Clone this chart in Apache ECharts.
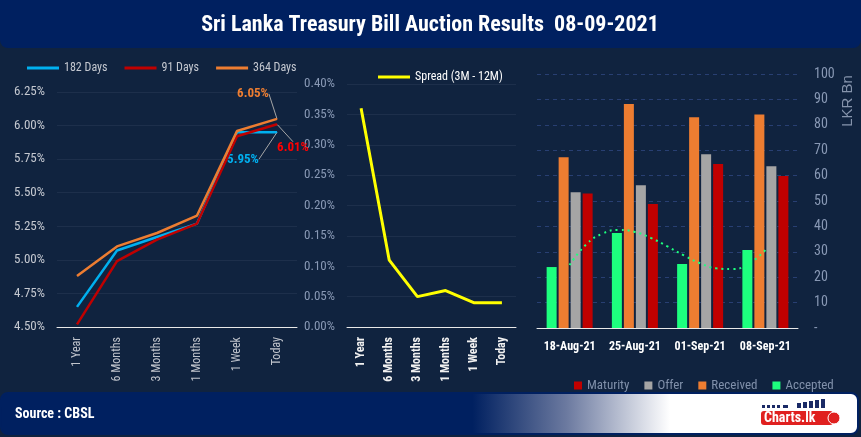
<!DOCTYPE html>
<html>
<head>
<meta charset="utf-8">
<script src="https://cdn.jsdelivr.net/npm/echarts@6/dist/echarts.min.js"></script>
<style>
html,body{margin:0;padding:0;background:#10233f;}
#chart{width:861px;height:437px;}
</style>
</head>
<body>
<div id="chart"></div>
<script>
const tenors = ['1 Year', '6 Months', '3 Months', '1 Months', '1 Week', 'Today'];
const days182 = [4.65, 5.07, 5.17, 5.27, 5.95, 5.95];
const days91 = [4.52, 4.99, 5.15, 5.27, 5.92, 6.01];
const days364 = [4.88, 5.10, 5.20, 5.33, 5.96, 6.05];
const spread = [0.36, 0.11, 0.05, 0.06, 0.04, 0.04];
const rateTicks = { min: 4.5, max: 6.25, interval: 0.25 };
const spreadTicks = { min: 0, max: 0.4, interval: 0.05 };

const auctionDates = ['18-Aug-21', '25-Aug-21', '01-Sep-21', '08-Sep-21'];
const maturity = [53, 48.8, 64.6, 59.8];
const offer = [53.4, 56.2, 68.4, 63.7];
const received = [67.2, 88.2, 83.0, 84.1];
const accepted = [24.0, 37.4, 25.2, 30.7];
const amountTicks = { min: 0, max: 100, interval: 10 };
// trend line at positions along the date axis (0 = first date)
const trendPos = [0, 0.25, 0.5, 0.75, 1, 1.25, 1.5, 1.75, 2, 2.25, 2.5, 2.75, 3];
const trendVal = [24.8, 32.8, 37.1, 38.6, 37.8, 35.4, 32.1, 28.6, 25.5, 23.5, 23.2, 25.4, 30.7];

const FONT = "'Roboto Condensed', 'Open Sans', sans-serif";
const C182 = '#00b0f0', C91 = '#c00000', C364 = '#ed7d31';

function lastLabel(arr, fmtColor) {
  return arr.map((v, i) => i === arr.length - 1
    ? { value: v, symbol: 'circle', symbolSize: 1,
        label: { show: true, position: 'top', formatter: v.toFixed(2) + '%', color: fmtColor,
                 fontFamily: FONT, fontWeight: 'bold', fontSize: 13 },
        labelLine: { show: true, lineStyle: { color: '#a6a6a6', width: 1 } } }
    : v);
}

const chart = echarts.init(document.getElementById('chart'), null, { renderer: 'canvas' });
const option = {
  backgroundColor: '#10233f',
  animation: false,
  textStyle: { fontFamily: FONT },
  graphic: [
    { type: 'rect', shape: { x: 0, y: 0, width: 861, height: 48, r: [0, 0, 8, 8] },
      style: { fill: '#002060' }, z: 0 },
    { type: 'text', x: 430, y: 25, style: { text: 'Sri Lanka Treasury Bill Auction Results  08-09-2021',
      fill: '#ffffff', font: "bold 22px " + FONT, align: 'center', verticalAlign: 'middle' } },
    { type: 'rect', shape: { x: 1, y: 393, width: 857, height: 41, r: 7 },
      style: { fill: new echarts.graphic.LinearGradient(0, 0, 1, 0, [
        { offset: 0, color: '#002060' }, { offset: 0.55, color: '#002060' },
        { offset: 0.66, color: '#6c7aa0' }, { offset: 0.78, color: '#ffffff' }, { offset: 1, color: '#ffffff' }]),
        stroke: '#002060', lineWidth: 2 } },
    { type: 'text', x: 15, y: 414, style: { text: 'Source : CBSL', fill: '#ffffff',
      font: "bold 14px " + FONT, verticalAlign: 'middle' } },
    // logo
    { type: 'rect', shape: { x: 761, y: 411, width: 72, height: 14, r: 3 }, style: { fill: '#e0201f' } },
    { type: 'text', x: 764, y: 418, style: { text: 'Charts.lk', fill: '#ffffff', font: "bold 14px " + FONT, verticalAlign: 'middle' } },
    { type: 'circle', shape: { cx: 834, cy: 418, r: 6 }, style: { fill: '#e0201f', stroke: '#ffffff', lineWidth: 1 } },
    { type: 'rect', shape: { x: 762, y: 405, width: 3, height: 3 }, style: { fill: '#1a2a66' } },
    { type: 'rect', shape: { x: 767, y: 405, width: 3, height: 3 }, style: { fill: '#1a2a66' } },
    { type: 'rect', shape: { x: 772, y: 405, width: 3, height: 3 }, style: { fill: '#1a2a66' } },
    { type: 'rect', shape: { x: 777, y: 405, width: 3, height: 3 }, style: { fill: '#1a2a66' } },
    { type: 'rect', shape: { x: 783, y: 405, width: 5, height: 3 }, style: { fill: '#1a2a66' } },
    { type: 'rect', shape: { x: 797, y: 403, width: 4, height: 5 }, style: { fill: '#1a2a66' } },
    { type: 'rect', shape: { x: 803, y: 402, width: 4, height: 6 }, style: { fill: '#1a2a66' } },
    { type: 'rect', shape: { x: 809, y: 401, width: 4, height: 7 }, style: { fill: '#1a2a66' } },
    { type: 'rect', shape: { x: 815, y: 400, width: 4, height: 8 }, style: { fill: '#1a2a66' } },
    { type: 'rect', shape: { x: 821, y: 399, width: 4, height: 9 }, style: { fill: '#1a2a66' } },
    { type: 'text', x: 848, y: 101, rotation: Math.PI / 2, style: { text: 'LKR Bn', fill: '#8593ab',
      font: "15px 'Liberation Sans', sans-serif", align: 'center', verticalAlign: 'middle' } }
  ],
  legend: [
    { left: 22, top: 57, icon: 'rect', itemWidth: 32, itemHeight: 3, itemGap: 17,
      textStyle: { color: '#c4c8d0', fontSize: 12, fontFamily: FONT },
      data: ['182 Days', '91 Days', '364 Days'] },
    { left: 373, top: 66, icon: 'rect', itemWidth: 32, itemHeight: 3,
      textStyle: { color: '#ffffff', fontSize: 12, fontFamily: FONT },
      data: ['Spread (3M - 12M)'] },
    { left: 569, top: 374, width: 290, icon: 'rect', itemWidth: 8, itemHeight: 8, itemGap: 15,
      textStyle: { color: '#8090aa', fontSize: 13, fontFamily: FONT },
      data: ['Maturity', 'Offer', 'Received', 'Accepted'] }
  ],
  grid: [
    { left: 57, right: 564, top: 92, bottom: 110 },
    { left: 347, right: 345, top: 84, bottom: 110 },
    { left: 537, right: 63, top: 74, bottom: 109 }
  ],
  xAxis: [
    { type: 'category', gridIndex: 0, data: tenors,
      axisLine: { lineStyle: { color: '#e8e8e8', width: 1 } }, axisTick: { show: false },
      axisLabel: { rotate: 90, color: '#c0c4cc', fontSize: 12, fontFamily: FONT, margin: 10 } },
    { type: 'category', gridIndex: 1, data: tenors,
      axisLine: { lineStyle: { color: '#e8e8e8', width: 1 } }, axisTick: { show: false },
      axisLabel: { rotate: 90, color: '#f0f0f0', fontSize: 12, fontWeight: 'bold', fontFamily: FONT, margin: 10 } },
    { type: 'category', gridIndex: 2, data: auctionDates,
      axisLine: { lineStyle: { color: '#e8e8e8', width: 1 } }, axisTick: { show: false },
      axisLabel: { color: '#ffffff', fontSize: 12, fontWeight: 'bold', fontFamily: FONT, margin: 13, interval: 0 } },
    { type: 'value', gridIndex: 2, min: -0.5, max: 3.5, show: false }
  ],
  yAxis: [
    { type: 'value', gridIndex: 0, min: rateTicks.min, max: rateTicks.max, interval: rateTicks.interval,
      axisLine: { show: false }, axisTick: { show: false },
      splitLine: { lineStyle: { color: '#1d2f4b', width: 1 } },
      axisLabel: { color: '#c4c8d0', fontSize: 13, fontFamily: FONT, margin: 12,
        formatter: v => v.toFixed(2) + '%' } },
    { type: 'value', gridIndex: 1, min: spreadTicks.min, max: spreadTicks.max, interval: spreadTicks.interval,
      axisLine: { show: false }, axisTick: { show: false },
      splitLine: { lineStyle: { color: '#1d2f4b', width: 1 } },
      axisLabel: { color: '#8898b4', fontSize: 13, fontFamily: FONT, margin: 12,
        formatter: v => v.toFixed(2) + '%' } },
    { type: 'value', gridIndex: 2, position: 'right', min: amountTicks.min, max: amountTicks.max, interval: amountTicks.interval,
      axisLine: { show: false }, axisTick: { show: false },
      splitLine: { lineStyle: { color: '#283f72', width: 1, type: [4, 4] } },
      axisLabel: { color: '#8898b4', fontSize: 14, fontFamily: FONT, margin: 16,
        formatter: v => v === 0 ? '-' : String(v) } }
  ],
  series: [
    { name: '182 Days', type: 'line', xAxisIndex: 0, yAxisIndex: 0, symbol: 'none', z: 3,
      lineStyle: { color: C182, width: 2.5 }, itemStyle: { color: C182 },
      data: lastLabel(days182, C182), labelLayout: { dx: -34, dy: 39 } },
    { name: '91 Days', type: 'line', xAxisIndex: 0, yAxisIndex: 0, symbol: 'none', z: 4,
      lineStyle: { color: C91, width: 2.5 }, itemStyle: { color: C91 },
      data: lastLabel(days91, '#ff0000'), labelLayout: { dx: 16, dy: 36 } },
    { name: '364 Days', type: 'line', xAxisIndex: 0, yAxisIndex: 0, symbol: 'none', z: 5,
      lineStyle: { color: C364, width: 2.5 }, itemStyle: { color: C364 },
      data: lastLabel(days364, C364), labelLayout: { dx: -24, dy: -13 } },
    { name: 'Spread (3M - 12M)', type: 'line', xAxisIndex: 1, yAxisIndex: 1, symbol: 'none',
      lineStyle: { color: '#ffff00', width: 3 }, itemStyle: { color: '#ffff00' }, data: spread },
    { name: 'Accepted', type: 'bar', xAxisIndex: 2, yAxisIndex: 2, barWidth: 10, barGap: '20%',
      itemStyle: { color: '#1dff7e' }, data: accepted },
    { name: 'Received', type: 'bar', xAxisIndex: 2, yAxisIndex: 2, barWidth: 10, barGap: '20%',
      itemStyle: { color: '#ed7d31' }, data: received },
    { name: 'Offer', type: 'bar', xAxisIndex: 2, yAxisIndex: 2, barWidth: 10, barGap: '20%',
      itemStyle: { color: '#a5a5a5' }, data: offer },
    { name: 'Maturity', type: 'bar', xAxisIndex: 2, yAxisIndex: 2, barWidth: 10, barGap: '20%',
      itemStyle: { color: '#c00000' }, data: maturity },
    { name: 'Trend', type: 'line', xAxisIndex: 3, yAxisIndex: 2, symbol: 'none', smooth: true, z: 10,
      lineStyle: { color: '#1dff7e', width: 2, type: [2, 4] },
      data: trendPos.map((p, i) => [p, trendVal[i]]) }
  ]
};
chart.setOption(option);
</script>
</body>
</html>
